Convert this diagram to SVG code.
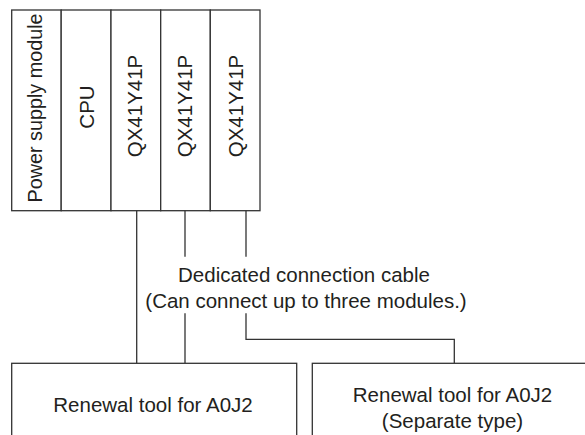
<svg xmlns="http://www.w3.org/2000/svg" width="585" height="435" viewBox="0 0 585 435">
<style>
.box{fill:#fff;stroke:#333;stroke-width:1.3}
.ln{fill:none;stroke:#333;stroke-width:1.3}
.t{font-family:"Liberation Sans",Arial,sans-serif;font-size:20.5px;fill:#231f20}
.m{text-anchor:middle}
</style>
<rect width="585" height="435" fill="#fff"/>
<g id="rack">
<g id="power"><rect class="box" x="11.7" y="10" width="49.5" height="200.7"/><text class="t m" style="font-size:19.8px" transform="translate(41.5,108) rotate(-90)">Power supply module</text></g>
<g id="cpu"><rect class="box" x="61.2" y="10" width="49.8" height="200.7"/><text class="t m" transform="translate(93.8,107) rotate(-90)">CPU</text></g>
<g id="qx1"><rect class="box" x="111" y="10" width="49.7" height="200.7"/><text class="t m" transform="translate(141.8,106) rotate(-90)">QX41Y41P</text></g>
<g id="qx2"><rect class="box" x="160.7" y="10" width="49.6" height="200.7"/><text class="t m" transform="translate(191.5,106) rotate(-90)">QX41Y41P</text></g>
<g id="qx3"><rect class="box" x="210.3" y="10" width="49.7" height="200.7"/><text class="t m" transform="translate(242.5,106) rotate(-90)">QX41Y41P</text></g>
</g>
<g id="connectors">
<path class="ln" d="M136.7,210.7V363.3"/>
<path class="ln" d="M185,210.7V256.7M185,313.3V363.3"/>
<path class="ln" d="M246,210.7V256.7M246,313.3V339.3H454.3V363.3"/>
</g>
<g id="cable-label">
<text class="t m" x="304" y="282.3">Dedicated connection cable</text>
<text class="t m" x="306" y="308.3">(Can connect up to three modules.)</text>
</g>
<g id="tool1"><rect class="box" x="11.7" y="363.3" width="285" height="80"/><text class="t m" x="153" y="411.7">Renewal tool for A0J2</text></g>
<g id="tool2"><rect class="box" x="312.3" y="363.3" width="290" height="80"/><text class="t m" x="452.5" y="401.7">Renewal tool for A0J2</text><text class="t m" x="452.5" y="427.5">(Separate type)</text></g>
</svg>
